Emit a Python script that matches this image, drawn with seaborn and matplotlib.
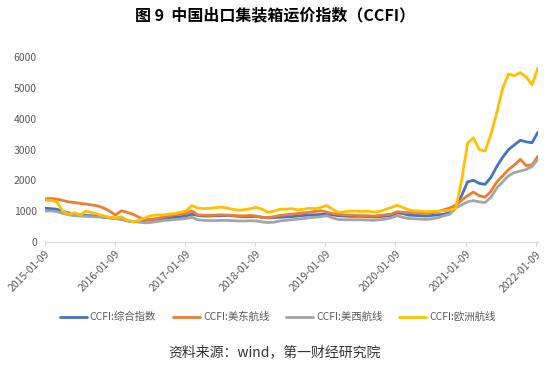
import matplotlib
matplotlib.use("Agg")
import matplotlib.pyplot as plt
import seaborn as sns
import pandas as pd
import numpy as np

# ---------------- data (monthly readings from the chart) ----------------
composite = [1090, 1080, 1060, 990, 940, 900, 870, 860, 850, 830, 800, 780,
             760, 740, 680, 650, 680, 700, 720, 740, 760, 780, 800, 820,
             840, 900, 860, 840, 840, 850, 850, 860, 850, 830, 820, 820,
             830, 800, 780, 790, 800, 810, 820, 840, 860, 870, 880, 890,
             900, 880, 850, 840, 830, 830, 830, 820, 810, 820, 840, 860,
             940, 920, 870, 860, 850, 840, 860, 880, 900, 960, 1150, 1500,
             1950, 2000, 1900, 1870, 2100, 2450, 2750, 3000, 3150, 3300, 3250, 3220,
             3560]
us_east = [1400, 1410, 1390, 1350, 1300, 1280, 1250, 1230, 1200, 1170, 1100, 1000,
           870, 1010, 960, 900, 800, 730, 720, 760, 800, 850, 880, 900,
           920, 1010, 880, 870, 860, 870, 880, 870, 860, 850, 850, 860,
           840, 800, 790, 820, 860, 880, 900, 920, 940, 960, 990, 1010,
           970, 920, 900, 880, 870, 860, 850, 850, 840, 860, 880, 900,
           980, 960, 950, 960, 940, 930, 950, 980, 1050, 1100, 1200, 1350,
           1500, 1620, 1500, 1450, 1650, 1950, 2150, 2350, 2500, 2680, 2480, 2500,
           2780]
us_west = [1000, 1010, 980, 930, 880, 850, 840, 830, 820, 810, 800, 790,
           760, 740, 700, 660, 640, 620, 630, 660, 690, 710, 730, 740,
           760, 800, 720, 700, 690, 690, 700, 700, 690, 680, 680, 690,
           680, 650, 630, 640, 680, 700, 720, 740, 760, 780, 800, 820,
           850, 780, 730, 720, 720, 720, 720, 710, 700, 720, 740, 780,
           850, 800, 760, 750, 740, 730, 750, 790, 850, 900, 1100, 1200,
           1300, 1340, 1300, 1280, 1450, 1750, 1950, 2150, 2250, 2300, 2350, 2450,
           2680]
europe = [1350, 1350, 1300, 1000, 900, 950, 880, 1000, 950, 900, 850, 800,
          780, 820, 700, 660, 700, 780, 850, 880, 870, 900, 920, 960,
          1000, 1180, 1100, 1080, 1090, 1110, 1130, 1100, 1060, 1030, 1050, 1080,
          1120, 1060, 960, 1000, 1060, 1060, 1080, 1040, 1060, 1090, 1080, 1120,
          1180, 1060, 960, 980, 1000, 1000, 990, 1000, 970, 990, 1050, 1120,
          1190, 1120, 1040, 1010, 1000, 980, 990, 1000, 1010, 1030, 1100, 2000,
          3200, 3380, 3000, 2950, 3500, 4200, 5000, 5450, 5400, 5500, 5350, 5100,
          5650]
series_names = ["CCFI:综合指数", "CCFI:美东航线", "CCFI:美西航线", "CCFI:欧洲航线"]
series_colors = ["#4472C4", "#ED7D31", "#A5A5A5", "#FFC000"]
tick_labels = ["2015-01-09", "2016-01-09", "2017-01-09", "2018-01-09",
               "2019-01-09", "2020-01-09", "2021-01-09", "2022-01-09"]
y_ticks = [0, 1000, 2000, 3000, 4000, 5000, 6000]

dates = pd.date_range("2015-01-09", "2022-01-21", periods=len(composite))
frames = []
for name, vals in zip(series_names, [composite, us_east, us_west, europe]):
    frames.append(pd.DataFrame({"date": dates, "value": vals, "series": name}))
df = pd.concat(frames, ignore_index=True)

# ---------------- figure ----------------
sns.set_theme(style="white")
plt.rcParams["font.family"] = ["Noto Sans CJK SC", "DejaVu Sans"]

fig = plt.figure(figsize=(5.5, 3.66), dpi=100)
ax = fig.add_axes([0.082, 0.339, 0.896, 0.505])

sns.lineplot(data=df, x="date", y="value", hue="series",
             hue_order=series_names, palette=series_colors,
             linewidth=2.0, ax=ax, legend=True)

ax.set_xlim(pd.Timestamp("2015-01-09"), dates[-1])
ax.set_ylim(0, 6000)
ax.set_yticks(y_ticks)
ax.set_yticklabels([str(v) for v in y_ticks])
ax.set_xticks(pd.to_datetime(tick_labels))
ax.set_xticklabels(tick_labels, rotation=45, ha="right", rotation_mode="anchor")
ax.set_xlabel("")
ax.set_ylabel("")

for s in ["top", "right", "left"]:
    ax.spines[s].set_visible(False)
ax.spines["bottom"].set_color("#D9D9D9")
ax.spines["bottom"].set_linewidth(0.9)
ax.tick_params(axis="x", colors="#595959", labelsize=7.5, length=3,
               width=0.8, direction="out", color="#D9D9D9", pad=2, bottom=True)
ax.tick_params(axis="y", colors="#595959", labelsize=7.5, length=0, pad=6)
ax.grid(False)

handles, labels = ax.get_legend_handles_labels()
ax.get_legend().remove()
fig.legend(handles, labels, loc="center", bbox_to_anchor=(0.505, 0.134),
           ncol=4, frameon=False, fontsize=7.5, handlelength=2.6,
           columnspacing=1.6, handletextpad=0.3, labelcolor="#595959")

fig.text(0.5, 0.957, "图 9  中国出口集装箱运价指数（CCFI）", ha="center", va="center",
         fontsize=11.5, fontweight="bold", color="#000000")
fig.text(0.5, 0.038, "资料来源：wind，第一财经研究院", ha="center", va="center",
         fontsize=10, color="#333333")

fig.savefig("out.png", dpi=100)
